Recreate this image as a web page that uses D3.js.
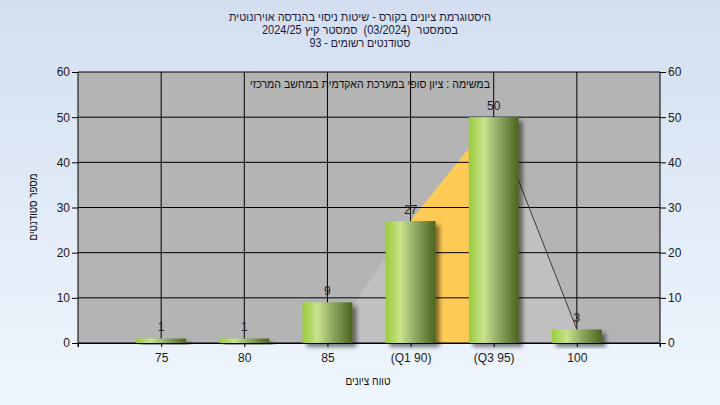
<!DOCTYPE html>
<html lang="he">
<head>
<meta charset="UTF-8">
<title>Histogram</title>
<style>
  body { margin: 0; }
  svg text { font-family: "Liberation Sans", Arial, sans-serif; }
</style>
</head>
<body>
<svg id="chart" width="720" height="405"></svg>
<script src="https://cdn.jsdelivr.net/npm/d3@7/dist/d3.min.js"></script>
<script>

// data
let categories = ["75", "80", "85", "(Q1 90)", "(Q3 95)", "100"];
let counts = [1, 1, 9, 27, 50, 3];
let areaValues = [0, 0, 0, 27, 50, 3];
let yTicks = [0, 10, 20, 30, 40, 50, 60];
let titleLines = [
    "היסטוגרמת ציונים בקורס - שיטות ניסוי בהנדסה אוירונוטית",
    "בסמסטר  (03/2024)  סמסטר קיץ 2024/25",
    "סטודנטים רשומים - 93"
];
let titleWidths = [262, 196, 101];
let subTitle = "במשימה : ציון סופי במערכת האקדמית במחשב המרכזי";
let q1Index = 3, q3Index = 4;

let svg = d3.select("#chart");
let W = 720, H = 405;
let margin = {top: 72, right: 60, bottom: 62, left: 78};
let width = W - margin.left - margin.right,
    height = H - margin.top - margin.bottom;

let defs = svg.append("defs");
let bg = defs.append("linearGradient").attr("id", "bg")
    .attr("x1", 0).attr("y1", 0).attr("x2", 0).attr("y2", 1);
bg.append("stop").attr("offset", "0%").attr("stop-color", "#d3dff0");
bg.append("stop").attr("offset", "100%").attr("stop-color", "#eff6fe");

let barGrad = defs.append("linearGradient").attr("id", "bar")
    .attr("x1", 0).attr("y1", 0).attr("x2", 1).attr("y2", 0);
barGrad.append("stop").attr("offset", "0%").attr("stop-color", "#9acb3a");
barGrad.append("stop").attr("offset", "30%").attr("stop-color", "#c9e28e");
barGrad.append("stop").attr("offset", "60%").attr("stop-color", "#8ea962");
barGrad.append("stop").attr("offset", "100%").attr("stop-color", "#4b641f");

let shadow = defs.append("filter").attr("id", "shadow")
    .attr("x", "-20%").attr("y", "-20%").attr("width", "160%").attr("height", "160%");
shadow.append("feDropShadow").attr("dx", 4).attr("dy", 4).attr("stdDeviation", 2)
    .attr("flood-color", "#000").attr("flood-opacity", 0.5);

svg.append("rect").attr("width", W).attr("height", H).attr("fill", "url(#bg)");

let chart = svg.append("g")
    .attr("transform", "translate(" + margin.left + "," + margin.top + ")");

// x: one empty slot either side of the categories
let xScale = d3.scaleLinear()
    .domain([0, categories.length + 1])
    .range([0, width]);
let yScale = d3.scaleLinear()
    .domain([0, 60])
    .range([height, 0]);
let barW = (xScale(1) - xScale(0)) * 0.6;

chart.append("rect").attr("width", width).attr("height", height).attr("fill", "#b4b4b4");

// area behind the bars
let pts = areaValues.map((d, i) => [i + 1, d]);
let area = d3.area()
    .x(d => xScale(d[0]))
    .y0(yScale(0))
    .y1(d => yScale(d[1]));
chart.append("path").datum(pts).attr("d", area).attr("fill", "#c0c0c0");
chart.append("path").datum(pts.slice(q1Index, q3Index + 1)).attr("d", area).attr("fill", "#ffcb55");

// grid
chart.append("g")
    .selectAll("line")
    .data(yTicks)
    .enter()
    .append("line")
    .attr("x1", 0).attr("x2", width)
    .attr("y1", d => yScale(d)).attr("y2", d => yScale(d))
    .attr("stroke", "#000");
chart.append("g")
    .selectAll("line")
    .data(categories)
    .enter()
    .append("line")
    .attr("x1", (d, i) => xScale(i + 1)).attr("x2", (d, i) => xScale(i + 1))
    .attr("y1", 0).attr("y2", height)
    .attr("stroke", "#000");

// line on the falling edge
chart.append("path")
    .datum(pts.slice(q3Index))
    .attr("d", d3.line().x(d => xScale(d[0])).y(d => yScale(d[1])))
    .attr("fill", "none")
    .attr("stroke", "#3a3a3a")
    .attr("stroke-width", 1);

// bars
chart.selectAll("rect.bar")
    .data(counts)
    .enter()
    .append("rect")
    .attr("class", "bar")
    .attr("x", (d, i) => xScale(i + 1) - barW / 2)
    .attr("y", d => yScale(d))
    .attr("width", barW)
    .attr("height", d => yScale(0) - yScale(d))
    .attr("fill", "url(#bar)")
    .attr("filter", "url(#shadow)");

// value labels
chart.selectAll("text.val")
    .data(counts)
    .enter()
    .append("text")
    .attr("class", "val")
    .attr("x", (d, i) => xScale(i + 1))
    .attr("y", d => yScale(d) - 7)
    .attr("text-anchor", "middle")
    .attr("font-size", 12)
    .attr("fill", "#1a1a30")
    .text(d => d);

// axes
let xAxis = chart.append("g")
    .attr("transform", "translate(0," + height + ")")
    .call(d3.axisBottom(xScale)
        .tickValues(d3.range(1, categories.length + 1))
        .tickFormat(d => categories[d - 1])
        .tickSize(4).tickPadding(6));
let yLeft = chart.append("g")
    .call(d3.axisLeft(yScale).tickValues(yTicks).tickSize(6).tickSizeOuter(0).tickPadding(2));
let yRight = chart.append("g")
    .attr("transform", "translate(" + width + ",0)")
    .call(d3.axisRight(yScale).tickValues(yTicks).tickSize(6).tickSizeOuter(0).tickPadding(2));
[xAxis, yLeft, yRight].forEach(g => {
    g.selectAll("text").attr("font-size", 12).attr("fill", "#1a1a1a")
        .style("font-family", "'Liberation Sans', Arial, sans-serif");
    g.selectAll("line, path").attr("stroke", "#000");
});
yLeft.select(".domain").attr("d", "M0,0V" + (height + 4));
yRight.select(".domain").attr("d", "M0,0V" + (height + 4));

// titles
svg.append("g")
    .selectAll("text")
    .data(titleLines)
    .enter()
    .append("text")
    .attr("x", 360)
    .attr("y", (d, i) => 21 + i * 13)
    .attr("text-anchor", "middle")
    .attr("direction", "rtl")
    .style("white-space", "pre")
    .attr("textLength", (d, i) => titleWidths[i])
    .attr("lengthAdjust", "spacingAndGlyphs")
    .attr("font-size", 12)
    .attr("fill", "#1b1b3a")
    .text(d => d);

svg.append("text")
    .attr("x", 370).attr("y", 88)
    .attr("text-anchor", "middle")
    .attr("direction", "rtl")
    .attr("textLength", 240)
    .attr("lengthAdjust", "spacingAndGlyphs")
    .attr("font-size", 12)
    .attr("fill", "#111")
    .text(subTitle);

svg.append("text")
    .attr("transform", "translate(37,207) rotate(-90)")
    .attr("text-anchor", "middle")
    .attr("direction", "rtl")
    .attr("textLength", 67)
    .attr("lengthAdjust", "spacingAndGlyphs")
    .attr("font-size", 12)
    .attr("fill", "#111")
    .text("מספר סטודנטים");

svg.append("text")
    .attr("x", 368).attr("y", 385)
    .attr("text-anchor", "middle")
    .attr("direction", "rtl")
    .attr("textLength", 45)
    .attr("lengthAdjust", "spacingAndGlyphs")
    .attr("font-size", 12)
    .attr("fill", "#111")
    .text("טווח ציונים");

</script>
</body>
</html>
